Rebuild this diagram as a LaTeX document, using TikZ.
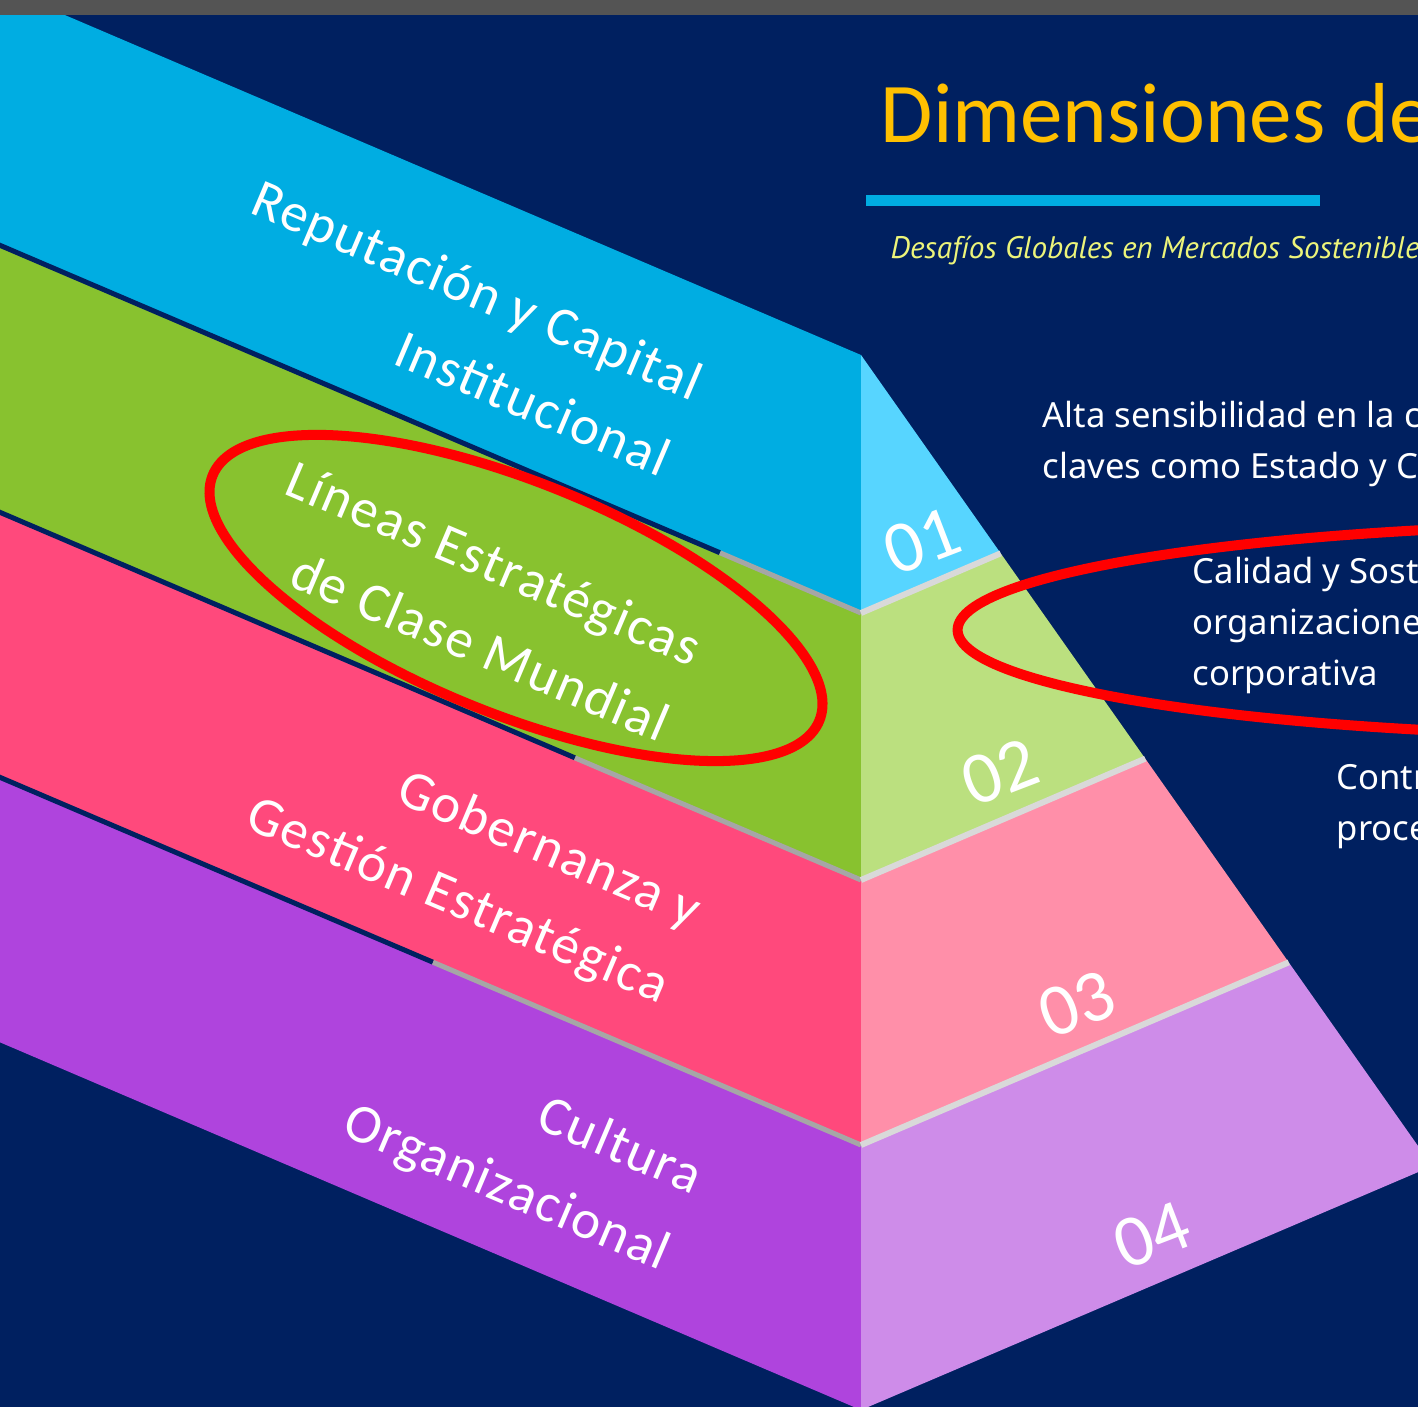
\documentclass[tikz,border=0pt]{standalone}
\usepackage{fontspec}
\setmainfont{Noto Sans}
\newfontfamily\labelfont{Carlito}
\newfontfamily\spacedfont[LetterSpace=3]{Carlito}
\newfontfamily\subfont{PT Sans}
\usetikzlibrary{calc}

\definecolor{navy}{RGB}{0,32,96}
\definecolor{topgray}{RGB}{84,84,84}
\definecolor{cyanL}{RGB}{0,173,226}
\definecolor{cyanR}{RGB}{87,213,255}
\definecolor{greenL}{RGB}{136,194,47}
\definecolor{greenR}{RGB}{187,224,127}
\definecolor{pinkL}{RGB}{255,73,124}
\definecolor{pinkR}{RGB}{255,143,169}
\definecolor{purpleL}{RGB}{175,68,221}
\definecolor{purpleR}{RGB}{206,140,233}
\definecolor{edgegray}{RGB}{166,166,166}
\definecolor{edgelight}{RGB}{217,217,217}
\definecolor{titlegold}{RGB}{255,192,0}
\definecolor{subyellow}{RGB}{236,244,122}
\definecolor{ringred}{RGB}{255,0,0}

\begin{document}
\begin{tikzpicture}[x=0.01cm, y=-0.01cm,
		layer/.style={font=\spacedfont\fontsize{15.6}{23.5}\selectfont, text=white, align=right, rotate=-23, anchor=east, inner sep=0pt},
		number/.style={font=\labelfont\fontsize{21}{21}\selectfont, text=white, rotate=21, inner sep=0pt},
		desc/.style={font=\fontsize{9.85}{14.5}\selectfont, text=white, align=left, anchor=north west, inner sep=0pt},
		redring/.style={draw=ringred, line width=2.85pt}]
			\clip (0,0) rectangle (1418,1407);
			\fill[navy] (0,0) rectangle (1418,1407);
			\foreach \yt/\yb/\cl/\cr in {355/613/cyanL/cyanR, 613/880/greenL/greenR, 880/1145/pinkL/pinkR, 1145/1410/purpleL/purpleR}{
				\fill[\cl] (861,\yt) -- (-20,{\yt-376.2}) -- (-20,{\yb-376.2}) -- (861,\yb) -- cycle;
				\fill[\cr] (861,\yt) -- ({861+(\yt-355)/1.847},{\yt-0.427*(\yt-355)/1.847}) -- ({861+(\yb-355)/1.847},{\yb-0.427*(\yb-355)/1.847}) -- (861,\yb) -- cycle;
			}
			\foreach \y/\xn in {613/720, 880/575, 1145/433}{
				\draw[navy, line width=1.42pt] (-20,{\y-376.2}) -- (\xn,{\y-0.427*(861-\xn)});
				\draw[edgegray, line width=1.42pt] (\xn,{\y-0.427*(861-\xn)}) -- (861,\y);
				\draw[edgelight, line width=1.7pt] (861,\y) -- ({861+(\y-355)/1.847},{\y-0.427*(\y-355)/1.847});
			}
			\node[layer] (rep) at (684,422) {Reputación y Capital\\Institucional};
			\node[layer] (lin) at (683,688) {Líneas Estratégicas\\de Clase Mundial};
			\node[layer] (gob) at (682,953) {Gobernanza y\\Gestión Estratégica};
			\node[layer] (cul) at (683,1220) {Cultura\\Organizacional};
			\node[number] (n1) at (922,541) {01};
			\node[number] (n2) at (1000,772) {02};
			\node[number] (n3) at (1077,1004) {03};
			\node[number] (n4) at (1152,1235) {04};
			\node[anchor=base west, inner sep=0pt, font=\labelfont\fontsize{24.2}{29}\selectfont, text=titlegold] (title) at (880,143) {Dimensiones de};
			\fill[cyanL] (866,195) rectangle (1320,206);
			\node[anchor=base west, inner sep=0pt, font=\subfont\itshape\fontsize{8.85}{11}\selectfont, text=subyellow] (sub) at (890,259) {Desafíos Globales en Mercados Sostenible};
			\node[desc] (alta) at (1042,400) {Alta sensibilidad en la c\\claves como Estado y C};
			\node[desc] (calidad) at (1192,556) {Calidad y Sost\\organizacione\\corporativa};
			\node[desc] (contr) at (1336,764) {Contr\\proce};
			\draw[redring, rotate around={-22:(516,598)}] (516,598) ellipse [x radius=3.27cm, y radius=1.16cm];
			\draw[redring] (1658,630) ellipse [x radius=7cm, y radius=1.06cm];
			\fill[topgray] (0,0) rectangle (1418,15);
		\end{tikzpicture}
\end{document}
